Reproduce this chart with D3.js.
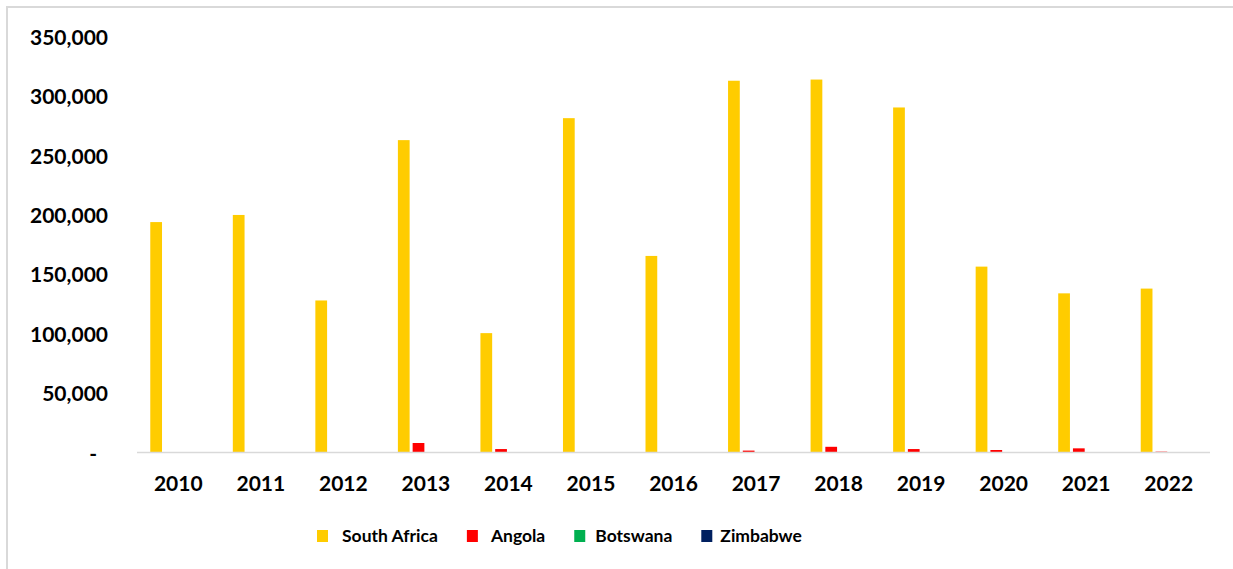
<!DOCTYPE html>
<html>
<head>
<meta charset="utf-8">
<script src="https://cdn.jsdelivr.net/npm/d3@7/dist/d3.min.js"></script>
<style>
  html, body { margin: 0; padding: 0; background: #fff; }
  svg { display: block; }
  text { font-family: Lato, "Liberation Sans", sans-serif; font-weight: bold; fill: #000; }
</style>
</head>
<body>
<svg id="chart" width="1233" height="569"></svg>
<script>
// Yearly values by country
const years = ["2010","2011","2012","2013","2014","2015","2016","2017","2018","2019","2020","2021","2022"];
const seriesNames = ["South Africa", "Angola", "Botswana", "Zimbabwe"];
const southAfrica = [194000, 200000, 128000, 263000, 100500, 281500, 165500, 313000, 314000, 290500, 156500, 134000, 138000];
const angola      = [0, 0, 0, 8000, 2900, 0, 0, 1600, 4800, 2900, 2100, 3500, 700];
const botswana    = [0, 0, 0, 0, 0, 0, 0, 0, 0, 0, 0, 0, 0];
const zimbabwe    = [0, 0, 0, 0, 0, 0, 0, 0, 0, 0, 0, 0, 0];
const yTicks = [0, 50000, 100000, 150000, 200000, 250000, 300000, 350000];
const colors = ["#FFCC00", "#FF0000", "#00B050", "#002060"];

const seriesValues = [southAfrica, angola, botswana, zimbabwe];
const rows = years.map((yr, i) => ({
  year: yr,
  values: seriesNames.map((name, s) => ({ name, value: seriesValues[s][i] }))
}));

const svg = d3.select("#chart");

// chart frame
svg.append("rect")
  .attr("x", 7).attr("y", 7)
  .attr("width", 1240).attr("height", 600)
  .attr("fill", "none")
  .attr("stroke", "#d9d9d9")
  .attr("stroke-width", 2);

const plot = { left: 137, right: 1210, top: 36.8, bottom: 452.5 };

const x0 = d3.scaleBand().domain(years).range([plot.left, plot.right]).padding(0);
const x1 = d3.scaleBand().domain(seriesNames).range([0, x0.bandwidth()])
  .paddingInner(0.204).paddingOuter(0.9);
const y = d3.scaleLinear().domain([0, 350000]).range([plot.bottom, plot.top]);
const color = d3.scaleOrdinal().domain(seriesNames).range(colors);

// bars
const groups = svg.append("g").selectAll("g")
  .data(rows).join("g")
  .attr("transform", d => `translate(${x0(d.year)},0)`);

groups.selectAll("rect")
  .data(d => d.values.filter(v => v.value > 0))
  .join("rect")
  .attr("x", d => x1(d.name))
  .attr("width", x1.bandwidth())
  .attr("y", d => y(d.value))
  .attr("height", d => y(0) - y(d.value))
  .attr("fill", d => color(d.name));

// baseline
svg.append("line")
  .attr("x1", plot.left).attr("x2", plot.right)
  .attr("y1", y(0)).attr("y2", y(0))
  .attr("stroke", "#d9d9d9").attr("stroke-width", 1.5);

// y axis labels
const fmt = d3.format(",");
const yAxis = d3.axisLeft(y).tickValues(yTicks).tickSize(0).tickPadding(0)
  .tickFormat(d => d === 0 ? "-" : fmt(d));
const yg = svg.append("g").attr("transform", "translate(108,0)").call(yAxis);
yg.select(".domain").remove();
yg.selectAll("text")
  .attr("font-size", 21)
  .attr("dy", "0.36em")
  .attr("dx", d => d === 0 ? -11 : 0);

// x axis labels
const xAxis = d3.axisBottom(x0).tickSize(0).tickPadding(0);
const xg = svg.append("g").attr("transform", `translate(0,${y(0) + 24})`).call(xAxis);
xg.select(".domain").remove();
xg.selectAll("text").attr("font-size", 21).attr("dy", "0.71em");
xg.selectAll("text").attr("y", 0);

// legend
const legend = svg.append("g").attr("transform", "translate(317,536)");
const labelGap = [25, 24, 21, 19];
let cursor = 0;
seriesNames.forEach((name, i) => {
  const item = legend.append("g").attr("transform", `translate(${cursor},0)`);
  item.append("rect")
    .attr("x", 0).attr("y", -6)
    .attr("width", 11).attr("height", 12)
    .attr("fill", colors[i]);
  const t = item.append("text")
    .attr("x", labelGap[i]).attr("y", 0).attr("dy", "0.36em")
    .attr("font-size", 17.5)
    .text(name);
  cursor += labelGap[i] + t.node().getComputedTextLength() + 29;
});
</script>
</body>
</html>
